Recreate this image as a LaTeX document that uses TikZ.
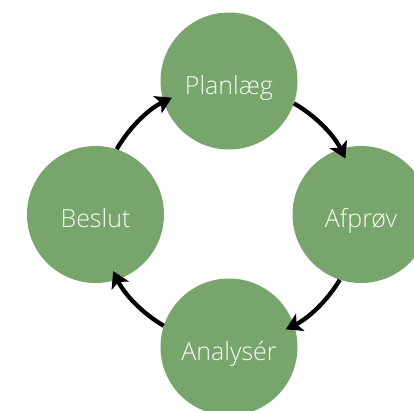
\documentclass[tikz,border=0pt]{standalone}
\usepackage{fontspec}
\setmainfont{Open Sans}[UprightFont=* Light]
\usetikzlibrary{arrows.meta}
\definecolor{leaf}{HTML}{78A56B}
\begin{document}
\begin{tikzpicture}[x=1pt,y=-1pt,
  stage/.style={circle,fill=leaf,minimum size=137pt,inner sep=0pt,text=white!94!leaf,
    text height=26pt,text depth=0pt,font=\fontsize{25}{30}\selectfont},
  arr/.style={line width=4.3pt,-{Stealth[length=16pt,width=19pt,inset=4pt]}}]
\useasboundingbox (0,0) rectangle (414,410);
\begin{scope}
\clip (0,0) rectangle (414,410);
\node[stage] (P) at (229,81) {Planlæg};
\node[stage] (A) at (361,214.5) {Afprøv};
\node[stage] (N) at (229,347) {Analysér};
\node[stage] (B) at (95.5,214.5) {Beslut};
\end{scope}
\draw[arr] (B.72) arc[start angle=-150,end angle=-116,radius=129];
\draw[arr] (P.-19) arc[start angle=-60,end angle=-26,radius=129];
\draw[arr] (A.-108) arc[start angle=31,end angle=64,radius=129];
\draw[arr] (N.162) arc[start angle=120.5,end angle=154,radius=129];
\end{tikzpicture}
\end{document}
